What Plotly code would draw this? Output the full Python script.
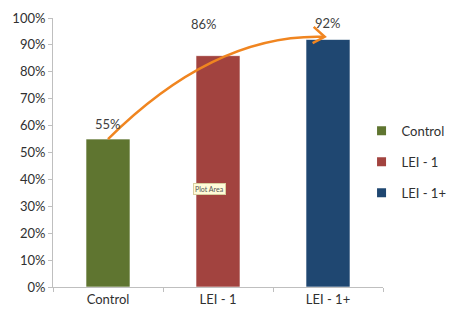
import plotly.graph_objects as go

categories = ["Control", "LEI - 1", "LEI - 1+"]
values = [0.55, 0.86, 0.92]
labels = ["55%", "86%", "92%"]
colors = ["#5F7530", "#A2433F", "#1F4771"]
y_ticks = [i / 10 for i in range(11)]
y_tick_labels = [f"{i*10}%" for i in range(11)]

FONT = "Lato, Open Sans, sans-serif"

fig = go.Figure()
for i, (c, v, col) in enumerate(zip(categories, values, colors)):
    fig.add_trace(go.Bar(
        x=[c], y=[v], name=c, marker=dict(color=col, line=dict(color="rgba(255,255,255,0.6)", width=1)),
        width=0.4, showlegend=False, hoverinfo="skip",
    ))
# legend entries with small square keys
for c, col in zip(categories, colors):
    fig.add_trace(go.Scatter(
        x=[None], y=[None], mode="markers", name=c, legendgroup=c,
        marker=dict(symbol="square", size=9, color=col), hoverinfo="skip",
    ))

# data labels (Excel-style placement)
label_pos = [(0, 0.606), (0.87, 0.978), (2.0, 0.981)]
for (lx, ly), t in zip(label_pos, labels):
    fig.add_annotation(x=lx, y=ly, xref="x", yref="y", text=t, showarrow=False,
                       font=dict(family=FONT, size=13, color="#404040"))

# orange curved arrow from Control to LEI - 1+
p0 = (0, values[0])
p2 = (1.97, 0.93)
ctrl = (0.97, 0.944)
fig.add_shape(type="path", xref="x", yref="y",
              path=f"M {p0[0]},{p0[1]} Q {ctrl[0]},{ctrl[1]} {p2[0]},{p2[1]}",
              line=dict(color="#F08520", width=2.5))
fig.add_shape(type="path", xref="x", yref="y",
              path=f"M 1.87,0.967 L {p2[0]},{p2[1]} L 1.86,0.907",
              line=dict(color="#F08520", width=2.5))

# "Plot Area" tooltip
fig.add_annotation(x=0.92, y=0.366, xref="x", yref="y", text="Plot Area", showarrow=False,
                   font=dict(family=FONT, size=7, color="#555555"),
                   bgcolor="#FFFBD8", bordercolor="#D8D0A0", borderwidth=1, borderpad=1)

fig.update_layout(
    width=451, height=315,
    margin=dict(l=53, r=68, t=18, b=28, autoexpand=False),
    paper_bgcolor="white", plot_bgcolor="white",
    barmode="overlay",
    font=dict(family=FONT, size=13, color="#404040"),
    showlegend=True,
    legend=dict(x=0.935, y=0.465, xanchor="left", yanchor="middle",
                traceorder="grouped", tracegroupgap=11,
                font=dict(family=FONT, size=13, color="#303030"),
                itemwidth=30, bgcolor="rgba(0,0,0,0)"),
    xaxis=dict(type="category", showgrid=False, showline=True, linecolor="#BFBFBF",
               ticks="outside", ticklen=4, tickcolor="#BFBFBF", tickson="boundaries",
               automargin=False, categoryorder="array", categoryarray=categories,
               tickfont=dict(family=FONT, size=13, color="#303030"), fixedrange=True),
    yaxis=dict(range=[0, 1], showgrid=False, showline=True, linecolor="#BFBFBF",
               ticks="outside", ticklen=4, tickcolor="#BFBFBF", automargin=False,
               tickvals=y_ticks, ticktext=y_tick_labels, zeroline=False,
               tickfont=dict(family=FONT, size=13, color="#303030"), fixedrange=True),
)

fig.write_html("out.html", config={"displayModeBar": False},
               post_script="document.body.style.margin='0';document.body.style.overflow='hidden';")
